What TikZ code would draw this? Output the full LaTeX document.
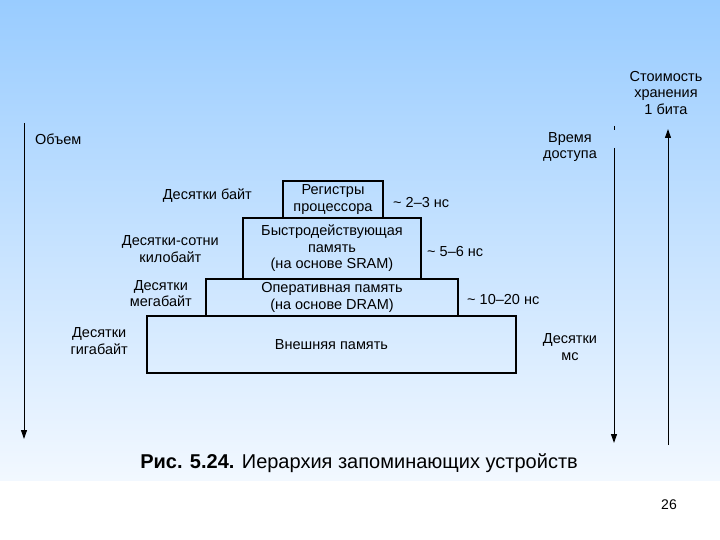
\documentclass[tikz,border=0pt]{standalone}
\usepackage{fontspec}
\setmainfont{Liberation Sans}
\usetikzlibrary{arrows.meta,positioning}
\definecolor{skyblue}{RGB}{153,204,255}
\definecolor{paleblue}{RGB}{242,248,255}

\tikzset{
  level/.style={draw, line width=1.4pt, align=center, inner sep=0pt,
    font=\fontsize{14.5}{16.5}\selectfont},
  lbl/.style={align=center, inner sep=0pt, font=\fontsize{14.5}{16.5}\selectfont},
  axis/.style={line width=1pt, -{Triangle[length=9pt,width=6pt]}}
}

\begin{document}
\begin{tikzpicture}[x=1pt,y=-1pt]
  \useasboundingbox (0,0) rectangle (720,540);
  % fond
  \shade[top color=skyblue, bottom color=paleblue] (0,0) rectangle (720,480);
  % pyramide
  \node[level, minimum width=100, minimum height=37] (reg) at (333,199.5) {Регистры\\процессора};
  \node[level, minimum width=178, minimum height=61] (sram) at (332,248.5) {Быстродействующая\\память\\(на основе SRAM)};
  \node[level, minimum width=252, minimum height=37] (dram) at (332,297.5) {Оперативная память\\(на основе DRAM)};
  \node[level, minimum width=369, minimum height=57] (ext) at (331.5,344.5) {Внешняя память};
  % объем
  \node[lbl, anchor=east] (vreg) at (252,196) {Десятки байт};
  \node[lbl, anchor=east] (vsram) at (219,249) {Десятки-сотни\\килобайт};
  \node[lbl, anchor=east] (vdram) at (192,293.5) {Десятки\\мегабайт};
  \node[lbl, anchor=east] (vext) at (128,341) {Десятки\\гигабайт};
  % время
  \node[lbl, anchor=west] (treg) at (393,203) {\textasciitilde{} 2--3 нс};
  \node[lbl, anchor=west] (tsram) at (427,252) {\textasciitilde{} 5--6 нс};
  \node[lbl, anchor=west] (tdram) at (467,300) {\textasciitilde{} 10--20 нс};
  \node[lbl] (text) at (570,347) {Десятки\\мс};
  % оси
  \node[lbl, anchor=west] (vol) at (35,139) {Объем};
  \node[lbl] (time) at (570,147) {Время\\доступа};
  \node[lbl] (cost) at (666,93) {Стоимость\\хранения\\1 бита};
  \coordinate (vtop) at (24,123);
  \coordinate (vend) at (24,439);
  \coordinate (ttick) at (614,126);
  \coordinate (ttop) at (614,148);
  \coordinate (tend) at (614,443);
  \coordinate (cbot) at (668,445);
  \coordinate (ctop) at (668,129);
  \draw[axis] (vtop) -- (vend);
  \draw[axis] (ttop) -- (tend);
  \draw[line width=1pt] (ttick) -- ++(0,4);
  \draw[axis] (cbot) -- (ctop);
  % подпись
  \node[inner sep=0pt, font=\fontsize{20}{22}\selectfont] (caption) at (359,463) {\textbf{Рис. 5.24.} Иерархия запоминающих устройств};
  \node[inner sep=0pt, font=\fontsize{14}{16}\selectfont] (page) at (669,505) {26};
\end{tikzpicture}
\end{document}
